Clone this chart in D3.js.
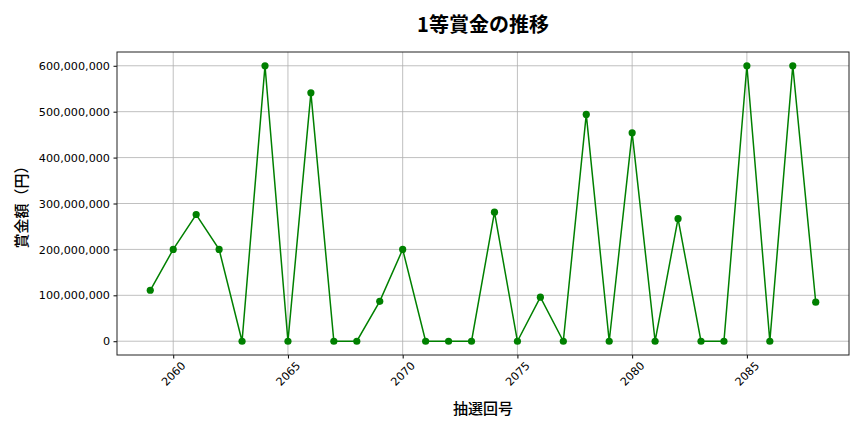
<!DOCTYPE html>
<html lang="ja">
<head>
<meta charset="UTF-8">
<title>1等賞金の推移</title>
<script src="https://d3js.org/d3.v7.min.js"></script>
<style>
  body { margin: 0; background: #fff; }
  svg { display: block; font-family: "Noto Sans CJK JP", "Noto Sans", sans-serif; }
</style>
</head>
<body>
<div id="chart"></div>
<script>
// 抽選回号 and 1等賞金 (円)
const rounds = [2059, 2060, 2061, 2062, 2063, 2064, 2065, 2066, 2067, 2068,
                2069, 2070, 2071, 2072, 2073, 2074, 2075, 2076, 2077, 2078,
                2079, 2080, 2081, 2082, 2083, 2084, 2085, 2086, 2087, 2088];
const prizes = [111000000, 200000000, 276000000, 200000000, 0, 600000000, 0, 541000000, 0, 0,
                87000000, 200000000, 0, 0, 0, 281000000, 0, 96000000, 0, 494000000,
                0, 454000000, 0, 267000000, 0, 0, 600000000, 0, 600000000, 85000000];
const xTicks = [2060, 2065, 2070, 2075, 2080, 2085];
const yTicks = [0, 100000000, 200000000, 300000000, 400000000, 500000000, 600000000];

const title = "1等賞金の推移";
const xLabel = "抽選回号";
const yLabel = "賞金額（円）";

const width = 864, height = 432;
const margin = { top: 52, right: 15, bottom: 77, left: 117 };
const innerW = width - margin.left - margin.right;
const innerH = height - margin.top - margin.bottom;
const tickFont = "'DejaVu Sans', sans-serif";

const svg = d3.select("#chart").append("svg")
    .attr("width", width)
    .attr("height", height);

const g = svg.append("g").attr("transform", `translate(${margin.left},${margin.top})`);

// matplotlib-style 5% padding on both axes
const xPad = (d3.max(rounds) - d3.min(rounds)) * 0.05;
const x = d3.scaleLinear()
    .domain([d3.min(rounds) - xPad, d3.max(rounds) + xPad])
    .range([0, innerW]);
const yPad = d3.max(prizes) * 0.05;
const y = d3.scaleLinear()
    .domain([-yPad, d3.max(prizes) + yPad])
    .range([innerH, 0]);

// grid
g.append("g").selectAll("line")
    .data(xTicks).enter().append("line")
    .attr("x1", d => x(d)).attr("x2", d => x(d))
    .attr("y1", 0).attr("y2", innerH)
    .attr("stroke", "#b0b0b0").attr("stroke-width", 0.8);
g.append("g").selectAll("line")
    .data(yTicks).enter().append("line")
    .attr("x1", 0).attr("x2", innerW)
    .attr("y1", d => y(d)).attr("y2", d => y(d))
    .attr("stroke", "#b0b0b0").attr("stroke-width", 0.8);

// axes
const xAxis = g.append("g")
    .attr("transform", `translate(0,${innerH})`)
    .call(d3.axisBottom(x).tickValues(xTicks).tickFormat(d3.format("d")).tickSizeOuter(0).tickSize(3.5));
xAxis.select(".domain").remove();
xAxis.attr("font-family", tickFont);
// rotated label, its box centred under the tick like matplotlib does
xAxis.selectAll("text")
    .attr("font-size", 11.2)
    .attr("fill", "#000")
    .attr("text-anchor", "middle")
    .attr("dominant-baseline", "central")
    .attr("y", 0).attr("dy", null)
    .attr("transform", "translate(0,19) rotate(-45)");

const yAxis = g.append("g")
    .call(d3.axisLeft(y).tickValues(yTicks).tickFormat(d3.format(",")).tickSizeOuter(0).tickSize(3.5));
yAxis.select(".domain").remove();
yAxis.attr("font-family", tickFont);
yAxis.selectAll("text").attr("font-size", 11.2).attr("fill", "#000").attr("x", -7);

// frame
g.append("rect")
    .attr("width", innerW).attr("height", innerH)
    .attr("fill", "none").attr("stroke", "#222").attr("stroke-width", 1);

// line + markers
const line = d3.line().x((d, i) => x(rounds[i])).y(d => y(d));
g.append("path")
    .datum(prizes)
    .attr("fill", "none")
    .attr("stroke", "green")
    .attr("stroke-width", 1.5)
    .attr("d", line);
g.append("g").selectAll("circle")
    .data(prizes).enter().append("circle")
    .attr("cx", (d, i) => x(rounds[i]))
    .attr("cy", d => y(d))
    .attr("r", 3.6)
    .attr("fill", "green");

// labels
svg.append("text")
    .attr("x", margin.left + innerW / 2).attr("y", 32)
    .attr("text-anchor", "middle")
    .attr("font-size", 20).attr("font-weight", "bold")
    .text(title);
svg.append("text")
    .attr("x", margin.left + innerW / 2).attr("y", 414)
    .attr("text-anchor", "middle")
    .attr("font-size", 15).attr("font-weight", 500)
    .text(xLabel);
svg.append("text")
    .attr("transform", `translate(27,${margin.top + innerH / 2}) rotate(-90)`)
    .attr("text-anchor", "middle")
    .attr("font-size", 15).attr("font-weight", 500)
    .text(yLabel);
</script>
</body>
</html>
